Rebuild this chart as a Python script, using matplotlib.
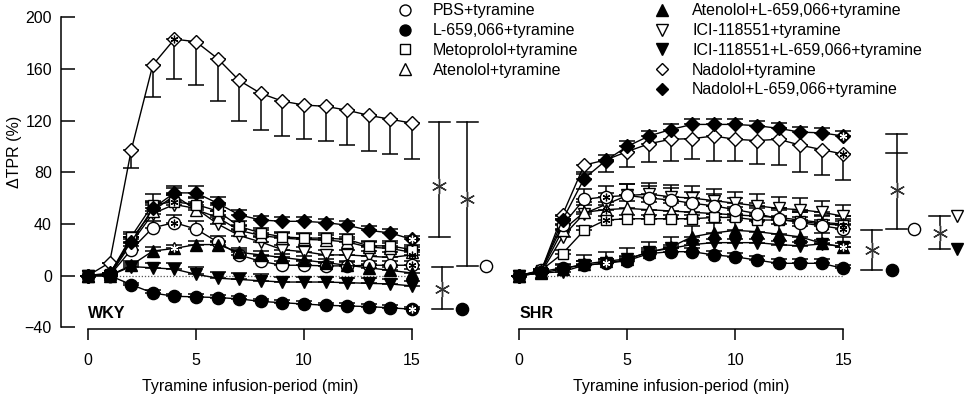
import matplotlib
matplotlib.use('Agg')
import matplotlib.pyplot as plt
from matplotlib.transforms import blended_transform_factory

plt.rcParams['font.family'] = ['Liberation Sans', 'DejaVu Sans']
plt.rcParams['font.size'] = 11.5

# ---------------- data ----------------
minutes = list(range(16))

# WKY panel (% change of TPR)
wky_pbs     = [0, 0, 20, 37, 41, 36, 26, 16, 11, 8, 8, 7.5, 7.5, 8, 8, 8]
wky_l659    = [0, 0, -7, -13.5, -16, -16.5, -17, -18, -20, -21, -22, -23, -23.5, -24, -25, -26]
wky_meto    = [0, 1, 30, 55, 57, 55, 50, 38, 33, 30, 29, 29, 28, 23, 23, 20]
wky_aten    = [0, 1, 28, 50, 62, 51, 45, 35, 31, 29, 28, 27.5, 26, 22, 21, 18]
wky_aten_l  = [0, 0, 8, 19, 21, 24, 24, 18, 16, 14, 12, 10, 8, 6, 4, 2]
wky_ici     = [0, 0, 25, 48, 55, 52, 40, 31, 26, 20, 18.5, 16, 16, 15, 14, 16]
wky_ici_l   = [0, 0, 7, 6, 5, 1, -2, -3, -4, -5, -5, -5, -5.5, -6, -6.5, -8]
wky_nad     = [0, 10, 97, 163, 183, 181, 168, 151, 141, 135, 132, 131, 128, 124, 121, 118]
wky_nad_l   = [0, 2, 26, 52, 64, 64, 56, 47, 43, 42, 42, 41, 39, 35, 33, 28]

# WKY SEM (one-sided)
wky_pbs_e    = [0, 0, 3, 5, 6, 6, 5, 4, 4, 3, 3, 3, 3, 3, 3, 3]
wky_l659_e   = [0, 0, 1, 2, 2, 2, 2, 2, 2, 2, 2, 2, 2, 2, 2, 2]
wky_meto_e   = [0, 1, 4, 8, 6, 6, 5, 4, 4, 4, 4, 4, 4, 4, 4, 4]
wky_aten_e   = [0, 1, 4, 7, 6, 6, 5, 4, 4, 4, 4, 4, 4, 4, 4, 4]
wky_aten_l_e = [0, 0, 3, 3, 3, 3, 3, 3, 3, 3, 3, 3, 3, 3, 3, 3]
wky_ici_e    = [0, 1, 5, 8, 7, 8, 7, 5, 4, 4, 4, 4, 4, 4, 4, 4]
wky_ici_l_e  = [0, 0, 3, 4, 5, 6, 5, 5, 5, 4, 4, 4, 4, 4, 4, 4]
wky_nad_e    = [0, 0, 14, 24.5, 31, 33.6, 32.8, 31, 28.6, 26.8, 26.2, 27.1, 26.6, 27.6, 27, 27.8]
wky_nad_l_e  = [0, 0, 4, 6, 5, 5, 5, 4, 3, 3, 3, 3, 3, 3, 3, 3]

# SHR panel
shr_pbs     = [0, 4, 39, 59, 61, 62, 60, 58.5, 56, 54, 51, 48, 44, 41, 38.5, 36]
shr_l659    = [0, 3, 6, 8, 9.5, 11.5, 17, 18.5, 18.5, 16, 14.5, 12, 9.5, 9.5, 9.5, 5.5]
shr_meto    = [0, 4, 17, 35, 43, 44, 44, 44, 44, 45, 45, 43, 43, 42, 40, 39]
shr_aten    = [0, 3, 35, 49, 51, 52, 51, 50, 49, 48, 47, 46, 45, 43, 41, 40]
shr_aten_l  = [0, 2, 5, 9, 11, 13, 18, 22, 30, 33, 35, 34, 32, 30, 25, 22]
shr_ici     = [0, 2, 30, 48, 55, 62, 63, 61, 60, 58, 56, 54, 52, 51, 49, 46]
shr_ici_l   = [0, 2, 3, 8, 9.5, 12.5, 18.5, 21, 24, 25.5, 25.5, 25.5, 24, 23, 24.5, 22.5]
shr_nad     = [0, 3, 47, 85.5, 89.5, 96, 102, 105.5, 106, 108, 105.5, 104.5, 105.5, 101, 97.5, 94]
shr_nad_l   = [0, 3, 43, 75, 89, 100, 108, 113, 117, 117, 117, 116, 114, 111, 110.5, 108]

shr_pbs_e    = [0, 1, 5, 8, 8, 9, 9, 9, 9, 9, 9, 8, 8, 8, 8, 8]
shr_l659_e   = [0, 1, 2, 3, 3, 3, 3, 3, 3, 3, 3, 3, 3, 3, 3, 3]
shr_meto_e   = [0, 1, 3, 3, 3, 3, 3, 3, 3, 3, 3, 3, 3, 3, 3, 3]
shr_aten_e   = [0, 1, 5, 6, 6, 6, 6, 6, 6, 6, 6, 6, 6, 6, 6, 6]
shr_aten_l_e = [0, 1, 4, 7, 7, 8, 8, 8, 8, 8, 8, 8, 8, 8, 8, 8]
shr_ici_e    = [0, 1, 6, 9, 9, 9, 9, 9, 9, 9, 9, 9, 9, 9, 9, 9]
shr_ici_l_e  = [0, 1, 2, 3, 3, 3, 3, 3, 3, 3, 3, 3, 3, 3, 3, 3]
shr_nad_e    = [0, 0, 3, 5, 9, 12, 14, 17, 16, 19, 17, 18, 20, 21, 20, 20]
shr_nad_l_e  = [0, 0, 3, 4, 4, 4, 4, 4, 4, 4, 4, 4, 4, 4, 4, 4]

legend_labels = [
    'PBS+tyramine', 'L-659,066+tyramine', 'Metoprolol+tyramine', 'Atenolol+tyramine',
    'Atenolol+L-659,066+tyramine', 'ICI-118551+tyramine', 'ICI-118551+L-659,066+tyramine',
    'Nadolol+tyramine', 'Nadolol+L-659,066+tyramine',
]
keys = ['pbs', 'l659', 'meto', 'aten', 'aten_l', 'ici', 'ici_l', 'nad', 'nad_l']

wky = dict(zip(keys, [wky_pbs, wky_l659, wky_meto, wky_aten, wky_aten_l, wky_ici, wky_ici_l, wky_nad, wky_nad_l]))
wky_err = dict(zip(keys, [wky_pbs_e, wky_l659_e, wky_meto_e, wky_aten_e, wky_aten_l_e, wky_ici_e, wky_ici_l_e, wky_nad_e, wky_nad_l_e]))
shr = dict(zip(keys, [shr_pbs, shr_l659, shr_meto, shr_aten, shr_aten_l, shr_ici, shr_ici_l, shr_nad, shr_nad_l]))
shr_err = dict(zip(keys, [shr_pbs_e, shr_l659_e, shr_meto_e, shr_aten_e, shr_aten_l_e, shr_ici_e, shr_ici_l_e, shr_nad_e, shr_nad_l_e]))

# error bar direction (+1 upward, -1 downward)
wky_dir = {k: 1 for k in keys}
wky_dir['nad'] = -1
shr_dir = {k: 1 for k in keys}
shr_dir['nad'] = -1

# significance stars on points: (series, minute)
wky_stars = [('nad', 4), ('pbs', 4), ('aten_l', 4), ('meto', 4), ('pbs', 15), ('nad_l', 15), ('l659', 15), ('ici', 15)]
shr_stars = [('nad', 4), ('pbs', 4), ('meto', 4), ('aten', 4), ('ici_l', 4),
             ('nad_l', 15), ('nad', 15), ('pbs', 15), ('ici_l', 15), ('meto', 15)]

# ---------------- styles ----------------
style = {
    'pbs':    dict(marker='o', fc='white', ms=8.8),
    'l659':   dict(marker='o', fc='black', ms=8.8),
    'meto':   dict(marker='s', fc='white', ms=7.8),
    'aten':   dict(marker='^', fc='white', ms=9.0),
    'aten_l': dict(marker='^', fc='black', ms=9.0),
    'ici':    dict(marker='v', fc='white', ms=9.0),
    'ici_l':  dict(marker='v', fc='black', ms=9.0),
    'nad':    dict(marker='D', fc='white', ms=7.2),
    'nad_l':  dict(marker='D', fc='black', ms=7.2),
}
draw_order = ['nad', 'ici', 'aten', 'meto', 'pbs', 'nad_l', 'aten_l', 'ici_l', 'l659']

W, H = 965, 399
fig = plt.figure(figsize=(W / 100, H / 100), dpi=100)

px_per_min = 21.6
ymin, ymax = -41.5, 200
px_per_unit = 1.292
ax_h_px = (ymax - ymin) * px_per_unit
bottom_px = H - 329.2

def make_axes(x0_px, xlo, xhi):
    left_px = x0_px + xlo * px_per_min
    width_px = (xhi - xlo) * px_per_min
    return fig.add_axes([left_px / W, bottom_px / H, width_px / W, ax_h_px / H])

axL = make_axes(88, -1.25, 15.5)
axR = make_axes(519.3, -0.5, 15.5)
for ax, xlo in ((axL, -1.25), (axR, -0.5)):
    ax.set_xlim(xlo, 15.5)
    ax.set_ylim(ymin, ymax)
    ax.patch.set_alpha(0)
    for s in ('top', 'right'):
        ax.spines[s].set_visible(False)
    ax.spines['bottom'].set_bounds(0, 15)
    ax.spines['bottom'].set_linewidth(1.1)
    ax.set_xticks([0, 5, 10, 15])
    ax.tick_params(axis='x', direction='out', length=8, width=1.1, pad=9, labelsize=11.5)

axL.spines['left'].set_bounds(-40, 200)
axL.spines['left'].set_linewidth(1.1)
axL.set_yticks(list(range(-40, 201, 40)))
axL.tick_params(axis='y', direction='in', length=10, width=1.1, pad=6.5, labelsize=11.5)
axR.spines['left'].set_visible(False)
axR.set_yticks([])


def draw_panel(ax, data, err, edir, stars):
    ax.plot(minutes[1:], [0] * 15, linestyle=(0, (1, 1.5)), color='#555555', lw=0.9, zorder=0.5)
    for i, k in enumerate(draw_order):
        st = style[k]
        y = data[k]
        e = err[k]
        lo = [v if edir[k] < 0 else 0 for v in e]
        hi = [v if edir[k] > 0 else 0 for v in e]
        ax.errorbar(minutes, y, yerr=[lo, hi], fmt='none', ecolor='black', elinewidth=1.1,
                    capsize=5.5, capthick=1.1, zorder=1 + i * 0.1)
        ax.plot(minutes, y, color='black', lw=1.0, marker=st['marker'], ms=st['ms'],
                mfc=st['fc'], mec='black', mew=1.0, zorder=3 + i * 0.1, clip_on=False)
    for k, idx in stars:
        col = 'white' if style[k]['fc'] == 'black' else 'black'
        ax.plot(minutes[idx], data[k][idx], marker=(6, 2, 0), ms=5.5, mec=col, mew=0.9,
                linestyle='none', zorder=5, clip_on=False)


draw_panel(axL, wky, wky_err, wky_dir, wky_stars)
draw_panel(axR, shr, shr_err, shr_dir, shr_stars)

# ---------------- significance brackets ----------------
# each: x of vertical line, cap extent, cap values, bottom value, star y, end markers
wky_brackets = [
    dict(x=16.26, caps=(15.79, 16.76), tops=[118.6], bottom=30.1, star=69, ends=[]),
    dict(x=17.56, caps=(17.07, 18.04), tops=[118.6], bottom=7.7, star=59,
         ends=[('o', 'white', 18.43, 7.7)]),
    dict(x=16.40, caps=(15.91, 16.88), tops=[6.9], bottom=-26.1, star=-10,
         ends=[('o', 'black', 17.30, -26.1)]),
]
shr_brackets = [
    dict(x=17.47, caps=(16.96, 17.96), tops=[109.6, 94.7], bottom=36.1, star=66,
         ends=[('o', 'white', 18.27, 36.1)]),
    dict(x=16.31, caps=(15.82, 16.78), tops=[35.3], bottom=4.3, star=19.8,
         ends=[('o', 'black', 17.24, 4.3)]),
    dict(x=19.48, caps=(18.97, 19.94), tops=[46.1], bottom=20.4, star=33.2,
         ends=[('v', 'white', 20.25, 46.1), ('v', 'black', 20.25, 20.4)]),
]


def draw_brackets(ax, brs):
    for b in brs:
        top = max(b['tops'])
        ax.plot([b['x'], b['x']], [b['bottom'], top], color='black', lw=1.1, clip_on=False, zorder=2)
        for t in b['tops'] + [b['bottom']]:
            ax.plot(list(b['caps']), [t, t], color='black', lw=1.1, clip_on=False, zorder=2)
        ax.plot(b['x'], b['star'], marker='o', ms=10, mfc='white', mec='white', clip_on=False, zorder=2.5)
        ax.plot(b['x'], b['star'], marker=(6, 2, 0), ms=11, mec='#333333', mew=1.0,
                clip_on=False, zorder=3)
        for m, fc, xm, ym in b['ends']:
            ax.plot(xm, ym, marker=m, ms=8.8 if m == 'o' else 9, mfc=fc, mec='black', mew=1.0,
                    clip_on=False, zorder=3)


draw_brackets(axL, wky_brackets)
draw_brackets(axR, shr_brackets)

# ---------------- texts ----------------
axL.text(0, -33, 'WKY', fontweight='bold', fontsize=11.5, ha='left', va='baseline')
axR.text(0, -33, 'SHR', fontweight='bold', fontsize=11.5, ha='left', va='baseline')

for ax in (axL, axR):
    tr = blended_transform_factory(ax.transData, fig.transFigure)
    ax.text(7.5, (H - 386.5) / H, 'Tyramine infusion-period (min)', transform=tr,
            ha='center', va='center', fontsize=11.5)

fig.text(14 / W, 1 - 152 / H, 'ΔTPR (%)', rotation=90, ha='center', va='center', fontsize=11.5)

# ---------------- legend (pixel overlay) ----------------
axO = fig.add_axes([0, 0, 1, 1])
axO.set_xlim(0, W)
axO.set_ylim(H, 0)
axO.axis('off')
axO.patch.set_alpha(0)
rows = [10, 29.7, 49.3, 69, 88.7]
entries = [(405, 433, rows[i], keys[i]) for i in range(4)] + \
          [(662, 692, rows[i - 4], keys[i]) for i in range(4, 9)]
for mx, tx, ry, k in entries:
    st = style[k]
    axO.plot(mx, ry, marker=st['marker'], ms=st['ms'] * 0.9, mfc=st['fc'], mec='black', mew=1.0,
             linestyle='none')
    axO.text(tx, ry + 5.5, legend_labels[keys.index(k)], ha='left', va='baseline', fontsize=11.5)

fig.savefig('out.png', dpi=100)
